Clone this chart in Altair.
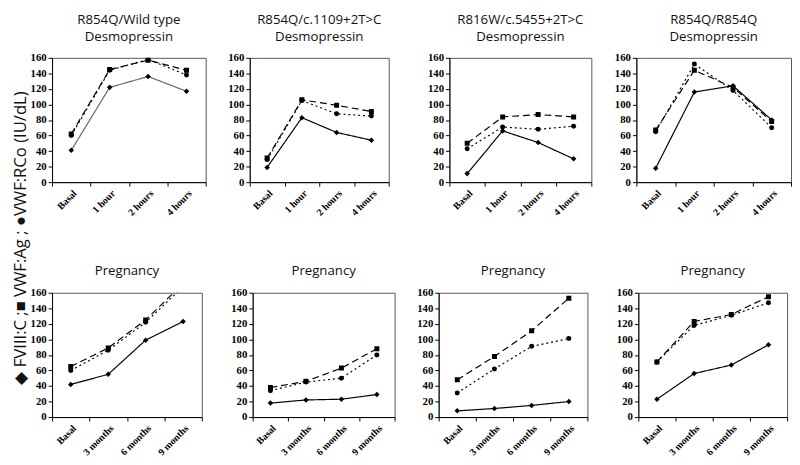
import altair as alt
import pandas as pd

series = ["FVIII:C", "VWF:Ag", "VWF:RCo"]
times_dd = ["Basal", "1 hour", "2 hours", "4 hours"]
times_preg = ["Basal", "3 months", "6 months", "9 months"]

titles_top = [["R854Q/Wild type", "Desmopressin"],
              ["R854Q/c.1109+2T>C", "Desmopressin"],
              ["R816W/c.5455+2T>C", "Desmopressin"],
              ["R854Q/R854Q", "Desmopressin"]]
title_bottom = "Pregnancy"
y_label = "\u25c6 FVIII:C ;\u25a0 VWF:Ag ; \u25cfVWF:RCo (IU/dL)"

# Desmopressin panels (one list per panel)
dd_fviii = [[41, 122, 136, 117], [19, 83, 64, 54], [11, 66, 51, 30], [18, 116, 124, 80]]
dd_ag = [[62, 145, 157, 144], [31, 106, 99, 91], [50, 84, 87, 84], [67, 144, 122, 78]]
dd_rco = [[60, 144, 158, 138], [29, 105, 88, 85], [43, 71, 68, 72], [65, 152, 118, 70]]

# Pregnancy panels
preg_fviii = [[42, 55, 99, 123], [18, 22, 23, 29], [8, 11, 15, 20], [23, 56, 67, 93]]
preg_ag = [[65, 89, 125, 172], [38, 46, 63, 88], [48, 78, 111, 153], [71, 123, 132, 155]]
preg_rco = [[60, 86, 122, 168], [34, 45, 50, 80], [31, 62, 91, 101], [71, 118, 131, 147]]

y_ticks = list(range(0, 161, 20))

styles = {
    "FVIII:C": dict(dash=[1, 0], shape="diamond", size=32),
    "VWF:Ag": dict(dash=[7, 4], shape="square", size=26),
    "VWF:RCo": dict(dash=[2, 3], shape="circle", size=26),
}


def panel(times, vals, title, width, height, extent, offset, xfs, line_color):
    layers = []
    for s, v in zip(series, vals):
        df = pd.DataFrame({"time": times, "value": v})
        x = alt.X("time:O", sort=times, bandPosition=0.5,
                  scale=alt.Scale(type="band", paddingInner=0, paddingOuter=0),
                  axis=alt.Axis(title=None, labelAngle=-45, tickBand="extent",
                                labelFont="Liberation Serif", labelFontWeight="bold",
                                labelFontSize=xfs, labelColor="black", tickColor="black",
                                domainColor="black", tickSize=4, labelPadding=2))
        y = alt.Y("value:Q", scale=alt.Scale(domain=[0, 160]),
                  axis=alt.Axis(title=None, values=y_ticks, labelFont="Liberation Serif",
                                labelFontWeight="bold", labelFontSize=11, labelColor="black",
                                tickColor="black", domainColor="black", tickSize=4,
                                labelPadding=2, minExtent=extent, maxExtent=extent))
        st = styles[s]
        col = line_color if s == "FVIII:C" else "black"
        layers.append(alt.Chart(df).mark_line(clip=True, strokeWidth=1.2, color=col,
                                              strokeDash=st["dash"]).encode(x=x, y=y))
        layers.append(alt.Chart(df).mark_point(clip=True, filled=True, opacity=1, color="black",
                                               shape=st["shape"], size=st["size"]).encode(x=x, y=y))
    return alt.layer(*layers).properties(
        width=width, height=height,
        title=alt.TitleParams(text=title, font="Open Sans", fontSize=13.5, fontWeight="normal",
                              color="#111", lineHeight=17, offset=offset, anchor="middle",
                              frame="group"))


top_widths = [157, 142, 145, 158]
top_ext = [16, 43, 60, 44]
bot_widths = [153, 145, 152, 152]
bot_ext = [20, 50, 43, 50]

top_row = alt.hconcat(*[
    panel(times_dd, [dd_fviii[i], dd_ag[i], dd_rco[i]], titles_top[i], top_widths[i], 127,
          top_ext[i], 9, 10, "#666" if i == 0 else "black")
    for i in range(4)], spacing=0)

bot_row = alt.hconcat(*[
    panel(times_preg, [preg_fviii[i], preg_ag[i], preg_rco[i]], title_bottom, bot_widths[i], 127,
          bot_ext[i], 10, 10, "black")
    for i in range(4)], spacing=0)

label = alt.Chart(pd.DataFrame({"t": [y_label]})).mark_text(
    angle=270, font="Open Sans", fontSize=17, color="#111"
).encode(text="t:N", x=alt.value(12), y=alt.value(184)).properties(
    width=19, height=400, view=alt.ViewBackground(stroke="transparent"))

chart = alt.hconcat(label, alt.vconcat(top_row, bot_row, spacing=46), spacing=0).properties(
    padding=0
).configure_view(stroke="#555", strokeWidth=1).configure_axis(grid=False)

chart.save("out.html", embed_options={"renderer": "svg", "actions": False})
